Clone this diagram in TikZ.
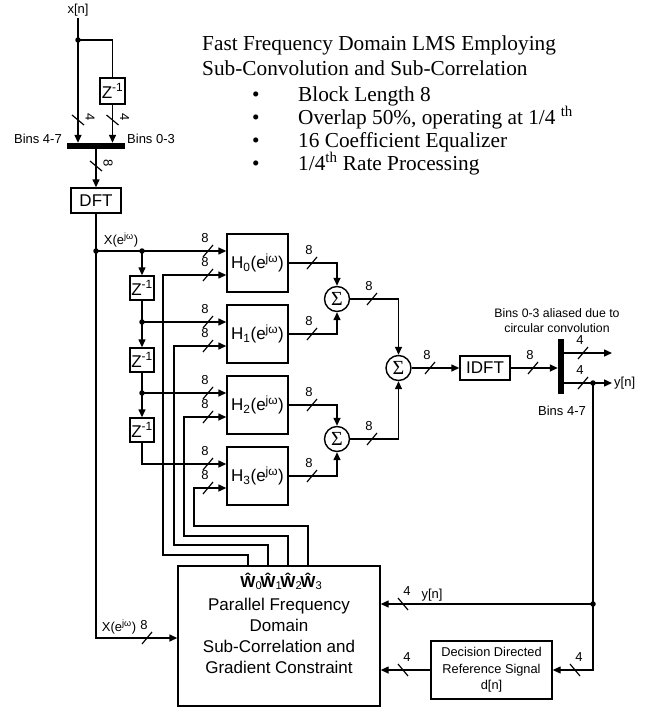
\documentclass[tikz,border=0pt]{standalone}
\usepackage{fontspec}
\setmainfont{Liberation Serif}
\setsansfont{Liberation Sans}
\usetikzlibrary{arrows.meta}
\tikzset{
  ln/.style={line width=1.4pt},
  arr/.style={line width=1.4pt,-{Triangle[length=8pt,width=7pt]}},
  box/.style={draw,line width=1.4pt,inner sep=0pt,font=\sffamily\fontsize{17}{18}\selectfont},
  lbl/.style={font=\sffamily\fontsize{13}{15}\selectfont,inner sep=0pt},
  jdot/.style={circle,fill,inner sep=0pt,minimum size=5.5pt},
  sumnode/.style={draw,circle,line width=1.4pt,minimum size=25pt,inner sep=0pt,font=\fontsize{20}{20}\selectfont},
  ttl/.style={font=\fontsize{21.3}{23}\selectfont,anchor=base west,inner sep=0pt},
  hbox/.style={box,minimum width=61pt,minimum height=58pt},
  zbox/.style={box,minimum width=24pt,minimum height=24pt},
  wlab/.style={font=\sffamily\bfseries\fontsize{16}{16}\selectfont,anchor=base,inner sep=0pt},
}
\newcommand\hbus[3]{\draw[line width=1.2pt] (#1-5,#2+6) -- (#1+5,#2-6); \node[lbl] at (#1-3,#2-13) {#3};}
\newcommand\rbus[3]{\draw[line width=1.2pt] (#1-5,#2-6) -- (#1+5,#2+6); \node[lbl] at (#1+4,#2-13) {#3};}
\newcommand\vbus[3]{\draw[line width=1.2pt] (#1-6,#2-5) -- (#1+6,#2+5); \node[lbl,rotate=-90] at (#1+12,#2-3) {#3};}
\begin{document}
\begin{tikzpicture}[x=1pt,y=-1pt]
\useasboundingbox (0,0) rectangle (652,709);

% title
\node[ttl] (t1) at (202,51) {Fast Frequency Domain LMS Employing};
\node[ttl] (t2) at (202,75) {Sub-Convolution and Sub-Correlation};
\node[ttl] (b1) at (252,101) {•}; \node[ttl] (i1) at (298,101) {Block Length 8};
\node[ttl] (b2) at (252,124) {•}; \node[ttl] (i2) at (298,124) {Overlap 50\%, operating at 1/4 \textsuperscript{th}};
\node[ttl] (b3) at (252,147) {•}; \node[ttl] (i3) at (298,147) {16 Coefficient Equalizer};
\node[ttl] (b4) at (252,170) {•}; \node[ttl] (i4) at (298,170) {1/4\textsuperscript{th} Rate Processing};

% input section
\node[lbl] (xn) at (78,10) {x[n]};
\coordinate (xtop) at (78,18);
\coordinate (jx) at (78,40);
\node[zbox,minimum width=25pt,minimum height=26pt] (z0) at (112.5,91) {Z\textsuperscript{-1}};
\node[fill,minimum width=58pt,minimum height=6pt,inner sep=0pt] (bar) at (96,146) {};
\node[lbl,anchor=east] (b47) at (62,139) {Bins 4-7};
\node[lbl,anchor=west] (b03) at (127,139) {Bins 0-3};
\node[box,minimum width=50pt,minimum height=25pt] (dft) at (96,200.5) {DFT};

\draw[arr] (xtop) -- (bar.north -| xtop);
\draw[ln] (jx) -| (z0.north);
\draw[arr] (z0.south) -- (bar.north -| z0.south);
\node[jdot] at (jx) {};
\vbus{78}{120}{4}
\vbus{112.5}{120}{4}
\draw[arr] (bar.south) -- (dft.north);
\vbus{96}{166}{8}

% H blocks
\node[hbox] (h0) at (257.5,263) {H\textsubscript{0}(e\textsuperscript{jω})};
\node[hbox] (h1) at (257.5,334) {H\textsubscript{1}(e\textsuperscript{jω})};
\node[hbox] (h2) at (257.5,405) {H\textsubscript{2}(e\textsuperscript{jω})};
\node[hbox] (h3) at (257.5,476) {H\textsubscript{3}(e\textsuperscript{jω})};
\coordinate (h0a) at ([yshift=12pt]h0.west); \coordinate (h0b) at ([yshift=-12pt]h0.west);
\coordinate (h1a) at ([yshift=12pt]h1.west); \coordinate (h1b) at ([yshift=-12pt]h1.west);
\coordinate (h2a) at ([yshift=12pt]h2.west); \coordinate (h2b) at ([yshift=-12pt]h2.west);
\coordinate (h3a) at ([yshift=12pt]h3.west); \coordinate (h3b) at ([yshift=-12pt]h3.west);

% delay chain
\node[zbox] (z1) at (142,288) {Z\textsuperscript{-1}};
\node[zbox] (z2) at (142,360) {Z\textsuperscript{-1}};
\node[zbox] (z3) at (142,430) {Z\textsuperscript{-1}};
\coordinate (ja) at (96,251);
\coordinate (jb) at (142,251);
\coordinate (jc) at (142,322);
\coordinate (jd) at (142,393);
\coordinate (xc) at (96,638);

% bottom block
\node[box,minimum width=202pt,minimum height=140pt,align=center,font=\sffamily\fontsize{17}{21}\selectfont] (pf) at (279,636)
  {Parallel Frequency\\Domain\\Sub-Correlation and\\Gradient Constraint};
\node[box,minimum width=121pt,minimum height=58pt,align=center,font=\sffamily\fontsize{12.8}{16.5}\selectfont] (dd) at (491.5,670)
  {Decision Directed\\Reference Signal\\d[n]};

\draw[arr] (dft.south) -- (xc) -- (pf.west |- xc);
\node[lbl] (xl2) at (119,627) {X(e\textsuperscript{jω})};
\hbus{147}{638}{8}
\node[lbl] (xl1) at (121,240) {X(e\textsuperscript{jω})};
\draw[arr] (ja) -- (h0a);
\draw[arr] (jb) -- (z1.north);
\draw[ln] (z1.south) -- (jc);
\draw[arr] (jc) -- (z2.north);
\draw[arr] (jc) -- (h1a);
\draw[ln] (z2.south) -- (jd);
\draw[arr] (jd) -- (z3.north);
\draw[arr] (jd) -- (h2a);
\draw[arr] (z3.south) |- (h3a);
\node[jdot] at (ja) {}; \node[jdot] at (jb) {}; \node[jdot] at (jc) {}; \node[jdot] at (jd) {};

% weight feedback
\coordinate (w0) at (248,566); \coordinate (r0) at (163,555);
\coordinate (w1) at (268,566); \coordinate (r1) at (174,545);
\coordinate (w2) at (288,566); \coordinate (r2) at (184,536);
\coordinate (w3) at (308,566); \coordinate (r3) at (194,526);
\draw[arr] (w0) |- (r0) |- (h0b);
\draw[arr] (w1) |- (r1) |- (h1b);
\draw[arr] (w2) |- (r2) |- (h2b);
\draw[arr] (w3) |- (r3) |- (h3b);
\node[wlab] (lw0) at (248,587) {Ŵ\rlap{\textsubscript{\mdseries 0}}};
\node[wlab] (lw1) at (268,587) {Ŵ\rlap{\textsubscript{\mdseries 1}}};
\node[wlab] (lw2) at (288,587) {Ŵ\rlap{\textsubscript{\mdseries 2}}};
\node[wlab] (lw3) at (308,587) {Ŵ\rlap{\textsubscript{\mdseries 3}}};

% input bus marks
\hbus{208}{251}{8} \hbus{208}{275}{8}
\hbus{208}{322}{8} \hbus{208}{346}{8}
\hbus{208}{393}{8} \hbus{208}{417}{8}
\hbus{208}{464}{8} \hbus{208}{488}{8}

% sums
\node[sumnode] (s1) at (337,299) {Σ};
\node[sumnode] (s2) at (337,439) {Σ};
\node[sumnode] (s) at (398.5,368) {Σ};
\draw[arr] (h0.east) -| (s1.north);
\draw[arr] (h1.east) -| (s1.south);
\draw[arr] (h2.east) -| (s2.north);
\draw[arr] (h3.east) -| (s2.south);
\draw[arr] (s1.east) -| (s.north);
\draw[arr] (s2.east) -| (s.south);
\hbus{312}{263}{8} \hbus{312}{334}{8} \hbus{312}{405}{8} \hbus{312}{476}{8}
\hbus{372}{299}{8} \hbus{372}{439}{8}

% output
\node[box,minimum width=50pt,minimum height=24pt] (idft) at (485,368) {IDFT};
\node[fill,minimum width=6pt,minimum height=55pt,inner sep=0pt] (obar) at (561,366.5) {};
\draw[arr] (s.east) -- (idft.west);
\hbus{430}{368}{8}
\draw[arr] (idft.east) -- (obar.west |- idft.east);
\hbus{533}{368}{8}
\coordinate (o1) at (612,353);
\coordinate (o2) at (612,383);
\draw[arr] (obar.east |- o1) -- (o1);
\draw[arr] (obar.east |- o2) -- (o2);
\hbus{583}{353}{4} \hbus{583}{383}{4}
\node[lbl,anchor=west] (yn) at (614,383) {y[n]};
\node[lbl,align=center,font=\sffamily\fontsize{12.3}{15}\selectfont] (alias) at (557,321) {Bins 0-3 aliased due to\\circular convolution};
\node[lbl] (b47b) at (562,411) {Bins 4-7};

% feedback to adaptation
\coordinate (j1) at (593,383);
\coordinate (j2) at (593,604);
\draw[ln] (j1) -- (j2);
\draw[arr] (j2) -- (pf.east |- j2);
\draw[arr] (j2) |- (dd.east);
\draw[arr] (dd.west) -- (pf.east |- dd.west);
\node[jdot] at (j1) {}; \node[jdot] at (j2) {};
\rbus{403}{604}{4}
\rbus{403}{670}{4}
\rbus{575}{670}{4}
\node[lbl] (yn2) at (432,595) {y[n]};
\end{tikzpicture}
\end{document}
